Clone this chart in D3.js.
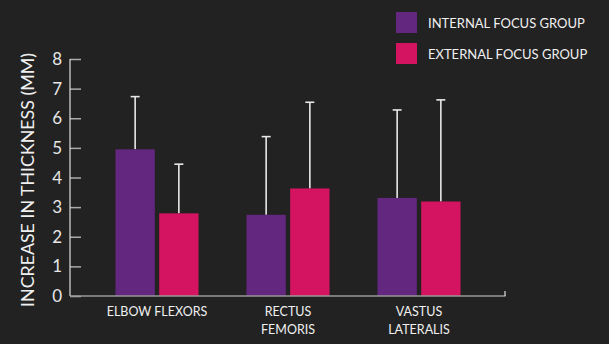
<!DOCTYPE html>
<html><head><meta charset="utf-8">
<script src="https://cdn.jsdelivr.net/npm/d3@7"></script>
<style>html,body{margin:0;padding:0;background:#222222;}svg{display:block;}</style>
</head><body>
<svg id="c" width="609" height="344"></svg>
<script>
const categories = [["ELBOW FLEXORS"], ["RECTUS", "FEMORIS"], ["VASTUS", "LATERALIS"]];
const seriesNames = ["INTERNAL FOCUS GROUP", "EXTERNAL FOCUS GROUP"];
const internalMeans = [4.95, 2.74, 3.31];
const externalMeans = [2.79, 3.63, 3.19];
const internalErrTop = [6.73, 5.38, 6.28];
const externalErrTop = [4.45, 6.54, 6.62];
const yTicks = [0, 1, 2, 3, 4, 5, 6, 7, 8];
const yLabel = "INCREASE IN THICKNESS (MM)";
const colors = ["#63277f", "#d51461"];

const font = "Lato, 'Open Sans', sans-serif";
const svg = d3.select("#c");
const x0 = 70, xEnd = 505, yZero = 296, yTop = 59;
const y = d3.scaleLinear().domain([0, 8]).range([yZero, yTop]);
const keys = categories.map((c, i) => i);
const x = d3.scaleBand().domain(keys).range([91.5, 484.5]).paddingInner(0.366).paddingOuter(0.183);
const xi = d3.scaleBand().domain([0, 1]).range([0, x.bandwidth()]).paddingInner(0.1);

const series = [
  {means: internalMeans, err: internalErrTop},
  {means: externalMeans, err: externalErrTop}
];

series.forEach((s, si) => {
  const g = svg.append("g");
  keys.forEach(k => {
    const cx = x(k) + xi(si) + xi.bandwidth() / 2;
    g.append("line").attr("x1", cx).attr("x2", cx).attr("y1", y(s.means[k])).attr("y2", y(s.err[k]))
      .attr("stroke", "#e8e8e8").attr("stroke-width", 1.6);
    g.append("line").attr("x1", cx - 4.5).attr("x2", cx + 4.5).attr("y1", y(s.err[k])).attr("y2", y(s.err[k]))
      .attr("stroke", "#e8e8e8").attr("stroke-width", 1.6);
  });
  g.selectAll("rect").data(keys).join("rect")
    .attr("x", k => x(k) + xi(si)).attr("width", xi.bandwidth())
    .attr("y", k => y(s.means[k])).attr("height", k => yZero - y(s.means[k]))
    .attr("fill", colors[si]);
});

const yAxis = d3.axisRight(y).tickValues(yTicks).tickSize(11).tickFormat("");
const ga = svg.append("g").attr("transform", `translate(${x0},0)`).call(yAxis);
ga.select(".domain").remove();
ga.selectAll(".tick line").attr("stroke", "#aaaaaa").attr("stroke-width", 1.5);
svg.append("line").attr("x1", x0).attr("x2", x0).attr("y1", yTop).attr("y2", yZero)
  .attr("stroke", "#e0e0e0").attr("stroke-width", 1.2);
svg.selectAll(".ytl").data(yTicks).join("text").attr("class", "ytl")
  .attr("x", 62).attr("y", d => y(d) + 6).attr("text-anchor", "end")
  .attr("fill", "#e6e6e6").attr("font-family", font).attr("font-size", 17).text(d => d);

svg.append("line").attr("x1", x0).attr("x2", xEnd + 0.5).attr("y1", yZero).attr("y2", yZero)
  .attr("stroke", "#999999").attr("stroke-width", 1.5);
svg.append("line").attr("x1", xEnd).attr("x2", xEnd).attr("y1", yZero).attr("y2", yZero - 5)
  .attr("stroke", "#e0e0e0").attr("stroke-width", 1.2);

keys.forEach(k => {
  const t = svg.append("text").attr("x", x(k) + x.bandwidth() / 2).attr("y", 316)
    .attr("text-anchor", "middle").attr("fill", "#f0f0f0").attr("font-family", font).attr("font-size", 12.5);
  categories[k].forEach((line, li) => {
    t.append("tspan").attr("x", x(k) + x.bandwidth() / 2).attr("dy", li === 0 ? 0 : 18).text(line);
  });
});

svg.append("text").attr("transform", `translate(34,180) rotate(-90)`).attr("text-anchor", "middle")
  .attr("fill", "#f0f0f0").attr("font-family", font).attr("font-size", 17.8).text(yLabel);

seriesNames.forEach((n, i) => {
  svg.append("rect").attr("x", 396).attr("y", 12 + i * 31).attr("width", 21).attr("height", 21).attr("fill", colors[i]);
  svg.append("text").attr("x", 428).attr("y", 28 + i * 31).attr("fill", "#f0f0f0")
    .attr("font-family", font).attr("font-size", 13).text(n);
});
</script>
</body></html>
